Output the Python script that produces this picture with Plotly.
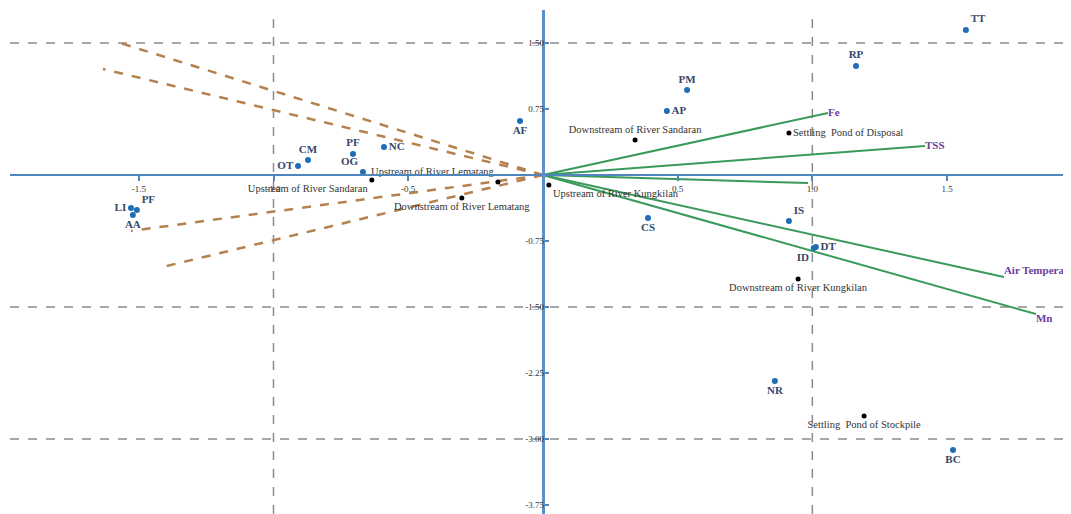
import plotly.graph_objects as go

# ---- species (blue points) ----
species_names = ["TT", "RP", "PM", "AP", "AF", "NC", "PF", "OG", "CM", "OT",
                 "LI", "PF", "AA", "CS", "IS", "DT", "ID", "NR", "BC"]
species_x = [1.570, 1.162, 0.535, 0.460, -0.085, -0.590, -0.705, -0.668, -0.872, -0.909,
             -1.529, -1.507, -1.522, 0.390, 0.913, 1.013, 1.005, 0.861, 1.522]
species_y = [1.648, 1.239, 0.966, 0.727, 0.614, 0.318, 0.239, 0.034, 0.170, 0.102,
             -0.375, -0.398, -0.455, -0.489, -0.523, -0.818, -0.830, -2.341, -3.125]
species_pos = ["top right", "top center", "top center", "middle right", "bottom center",
               "middle right", "top center", "top left", "top center", "middle left",
               "middle left", "top right", "bottom center", "bottom center", "top right",
               "middle right", "bottom left", "bottom center", "bottom center"]

# ---- sites (black points) ----
site_names = ["Downstream of River Sandaran", "Settling  Pond of Disposal",
              "Upstream of River Lematang", "Upstream of River Sandaran",
              "Downstream of River Lematang", "Upstream of River Kungkilan",
              "Downstream of River Kungkilan", "Settling  Pond of Stockpile"]
site_x = [0.342, 0.913, -0.167, -0.635, -0.301, 0.022, 0.947, 1.192]
site_y = [0.398, 0.477, -0.080, -0.057, -0.261, -0.114, -1.182, -2.739]
site_pos = ["top center", "middle right", "top left", "bottom left",
            "bottom center", "bottom right", "bottom center", "bottom center"]

# ---- environmental vectors (green) ----
env_names = ["Fe", "TSS", "", "Air Temperature", "Mn"]
env_x = [1.058, 1.418, 0.984, 1.711, 1.830]
env_y = [0.705, 0.330, -0.091, -1.159, -1.580]
env_pos = ["middle right", "middle right", "middle right", "top right", "bottom right"]

# ---- brown dashed vectors ----
brown_x = [-1.581, -1.633, -1.529, -1.411]
brown_y = [1.511, 1.205, -0.636, -1.045]

# ---- axes ----
x_range = [-1.978, 1.960]
y_range = [-3.852, 1.875]
x_ticks = [-1.5, -1.0, -0.5, 0.5, 1.0, 1.5]
x_ticktext = ["-1.5", "-1.0", "-0.5", "0.5", "1.0", "1.5"]
y_ticks = [1.5, 0.75, -0.75, -1.5, -2.25, -3.0, -3.75]
y_ticktext = ["1.50", "0.75", "-0.75", "-1.50", "-2.25", "-3.00", "-3.75"]
x_grid = [-1.0, 1.0]
y_grid = [1.5, -1.5, -3.0]

SERIF = "Liberation Serif"

def vec_xy(xs, ys):
    vx, vy = [], []
    for a, b in zip(xs, ys):
        vx += [0, a, None]
        vy += [0, b, None]
    return vx, vy

fig = go.Figure()

bx, by = vec_xy(brown_x, brown_y)
fig.add_trace(go.Scatter(x=bx, y=by, mode="lines",
                         line=dict(color="#b5814f", width=2.5, dash="dash"),
                         hoverinfo="skip"))

gx, gy = vec_xy(env_x, env_y)
fig.add_trace(go.Scatter(x=gx, y=gy, mode="lines",
                         line=dict(color="#3a9a5c", width=2),
                         hoverinfo="skip"))

fig.add_trace(go.Scatter(x=env_x, y=env_y, mode="text", text=env_names,
                         textposition=env_pos,
                         textfont=dict(family=SERIF, size=11, color="#6b3d9e",
                                       weight="bold")))

fig.add_trace(go.Scatter(x=site_x, y=site_y, mode="markers+text", text=site_names,
                         textposition=site_pos,
                         marker=dict(color="black", size=5),
                         textfont=dict(family=SERIF, size=10.5, color="#333333")))

fig.add_trace(go.Scatter(x=species_x, y=species_y, mode="markers+text",
                         text=species_names, textposition=species_pos,
                         marker=dict(color="#1f6db5", size=6),
                         textfont=dict(family=SERIF, size=11, color="#34486a",
                                       weight="bold")))

shapes = []
for gxv in x_grid:
    shapes.append(dict(type="line", xref="x", yref="paper", x0=gxv, x1=gxv, y0=0, y1=1,
                       line=dict(color="#8c8c8c", width=1.5, dash="dash"), layer="below"))
for gyv in y_grid:
    shapes.append(dict(type="line", xref="paper", yref="y", x0=0, x1=1, y0=gyv, y1=gyv,
                       line=dict(color="#8c8c8c", width=1.5, dash="dash"), layer="below"))

xpos = (0 - y_range[0]) / (y_range[1] - y_range[0])
ypos = (0 - x_range[0]) / (x_range[1] - x_range[0])

fig.update_layout(
    width=1071, height=514,
    margin=dict(l=2, r=8, t=2, b=8),
    plot_bgcolor="white", paper_bgcolor="white",
    showlegend=False,
    shapes=shapes,
    xaxis=dict(range=x_range, anchor="free", position=xpos,
               showgrid=False, zeroline=False,
               showline=True, linecolor="#4f86c0", linewidth=2,
               tickmode="array", tickvals=x_ticks, ticktext=x_ticktext,
               ticks="outside", ticklen=5, tickwidth=2, tickcolor="#4f86c0",
               tickfont=dict(family=SERIF, size=9, color="#333333")),
    yaxis=dict(range=y_range, anchor="free", position=ypos,
               showgrid=False, zeroline=False,
               showline=True, linecolor="#5b8fc9", linewidth=3,
               tickmode="array", tickvals=y_ticks, ticktext=y_ticktext,
               ticks="inside", ticklen=4, tickwidth=2, tickcolor="#4f86c0",
               ticklabelstandoff=-4,
               tickfont=dict(family=SERIF, size=9, color="#333333")),
)

fig.write_html("out.html")
